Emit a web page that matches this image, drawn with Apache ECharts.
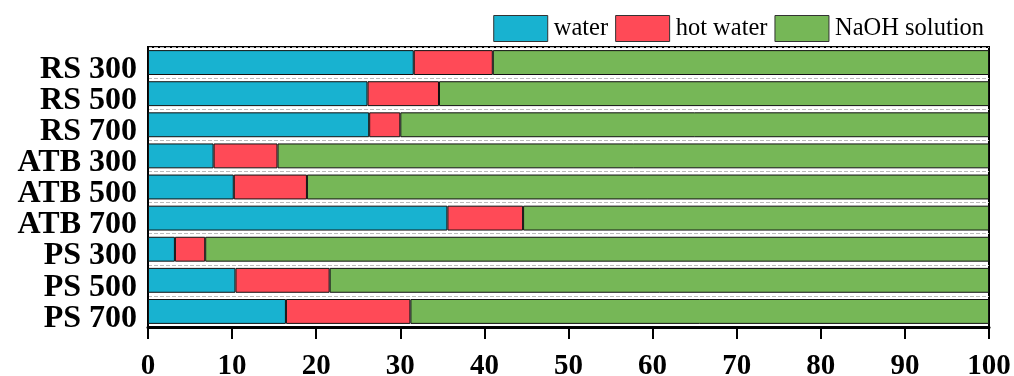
<!DOCTYPE html>
<html>
<head>
<meta charset="utf-8">
<script src="https://cdn.jsdelivr.net/npm/echarts@6/dist/echarts.min.js"></script>
<style>
  html, body { margin: 0; padding: 0; background: #fff; }
  #chart { width: 1014px; height: 376px; }
</style>
</head>
<body>
<div id="chart"></div>
<script>
// Samples, top to bottom
const samples = ['RS 300', 'RS 500', 'RS 700', 'ATB 300', 'ATB 500', 'ATB 700', 'PS 300', 'PS 500', 'PS 700'];

// Share of each extraction step (%)
const water = [31.6, 26.1, 26.3, 7.8, 10.2, 35.6, 3.2, 10.4, 16.4];
const hotWater = [9.4, 8.5, 3.7, 7.6, 8.7, 9.0, 3.6, 11.2, 14.8];
const naohSolution = [59.0, 65.4, 70.0, 84.6, 81.1, 55.4, 93.2, 78.4, 68.8];

const xTicks = { min: 0, max: 100, interval: 10 };

const serif = "'Liberation Serif', 'Times New Roman', serif";
const colors = ['#18B2D0', '#FF4A57', '#76B757'];

const chart = echarts.init(document.getElementById('chart'));

function barSeries(name, data) {
  return {
    name: name,
    type: 'bar',
    stack: 'total',
    data: data,
    barWidth: '80%',
    itemStyle: { borderColor: '#111', borderWidth: 1 }
  };
}

chart.setOption({
  animation: false,
  color: colors,
  textStyle: { fontFamily: serif },
  legend: {
    top: 15,
    right: 30,
    padding: 0,
    itemWidth: 54,
    itemHeight: 26,
    itemGap: 7,
    icon: 'rect',
    textStyle: { fontFamily: serif, fontSize: 24.5, color: '#000', padding: [0, 0, 0, 1] },
    itemStyle: { borderColor: '#333', borderWidth: 1 },
    data: ['water', 'hot water', 'NaOH solution']
  },
  grid: {
    left: 148,
    right: 25,
    top: 47,
    bottom: 49,
    outerBoundsMode: 'none',
    containLabel: false,
    show: true,
    borderColor: '#000',
    borderWidth: 2
  },
  xAxis: {
    type: 'value',
    min: xTicks.min,
    max: xTicks.max,
    interval: xTicks.interval,
    axisLine: { show: true, lineStyle: { color: '#000', width: 3 } },
    axisTick: { show: true, length: 12, lineStyle: { color: '#000', width: 2 } },
    axisLabel: { fontFamily: serif, fontWeight: 'bold', fontSize: 29, color: '#000', margin: 25 },
    splitLine: { show: false }
  },
  yAxis: {
    type: 'category',
    data: samples,
    inverse: true,
    axisLine: { show: true, lineStyle: { color: '#000', width: 2 } },
    axisTick: { show: false },
    axisLabel: {
      interval: 0, fontFamily: serif, fontWeight: 'bold', fontSize: 32, color: '#000',
      margin: 11, verticalAlign: 'top', lineHeight: 14
    },
    splitLine: { show: true, lineStyle: { color: '#bbb', type: 'dashed', width: 1 } }
  },
  series: [
    barSeries('water', water),
    barSeries('hot water', hotWater),
    barSeries('NaOH solution', naohSolution)
  ]
});
</script>
</body>
</html>
